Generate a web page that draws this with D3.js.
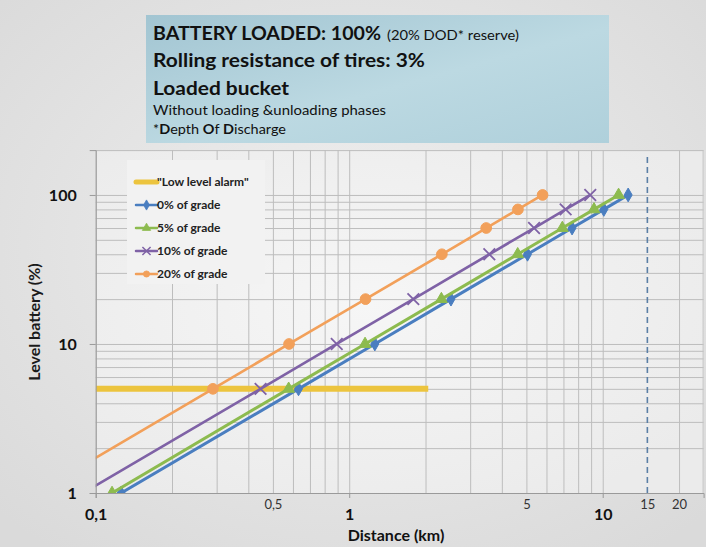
<!DOCTYPE html>
<html>
<head>
<meta charset="utf-8">
<script src="https://cdn.jsdelivr.net/npm/d3@7"></script>
<style>
  html, body { margin: 0; padding: 0; background: #e2e2e2; }
  svg { display: block; font-family: Lato, "Open Sans", sans-serif; }
</style>
</head>
<body>
<svg id="chart" width="706" height="547"></svg>
<script>
// Battery level (%) reached at each distance, per road grade
const levels   = [1, 5, 10, 20, 40, 60, 80, 100];
const grade0   = [0.126, 0.631, 1.262, 2.52, 5.05, 7.57, 10.1, 12.6];
const grade5   = [0.116, 0.577, 1.155, 2.31, 4.62, 6.93, 9.24, 11.55];
const grade10  = [0.089, 0.447, 0.893, 1.79, 3.57, 5.36, 7.14, 8.93];
const grade20  = [0.058, 0.29, 0.579, 1.16, 2.32, 3.47, 4.63, 5.79];
// "Low level alarm" threshold line
const alarmLevel = 5;
const alarmDistance = [0.1, 2.05];
// Range limit marker (km)
const rangeLimit = 15;
// Axis labels
const xMajorTicks = [0.1, 1, 10];
const xMinorLabels = [0.5, 5, 15, 20];
const yTicks = [1, 10, 100];

const seriesNames  = ["0% of grade", "5% of grade", "10% of grade", "20% of grade"];
const legendLabels = ["0% of grade", "5%  of grade", "10% of grade", "20% of grade"];
const seriesDist   = [grade0, grade5, grade10, grade20];
const colors  = ["#4a7ec0", "#8dbb4f", "#7f62a6", "#f2a05a"];
const symbols = [d3.symbolDiamond, d3.symbolTriangle, d3.symbolTimes, d3.symbolCircle];
const alarmColor = "#ecc43e";

const svg = d3.select("#chart");
const W = 706, H = 547;
const defs = svg.append("defs");

// page background
const pg = defs.append("radialGradient").attr("id", "pageBg")
  .attr("cx", "50%").attr("cy", "45%").attr("r", "70%");
pg.append("stop").attr("offset", "0%").attr("stop-color", "#efefef");
pg.append("stop").attr("offset", "100%").attr("stop-color", "#dadada");
svg.append("rect").attr("width", W).attr("height", H).attr("fill", "url(#pageBg)");

// title panel
const tg = defs.append("linearGradient").attr("id", "titleBg")
  .attr("x1", "0").attr("y1", "0").attr("x2", "1").attr("y2", "1");
tg.append("stop").attr("offset", "0%").attr("stop-color", "#a2c5d2");
tg.append("stop").attr("offset", "55%").attr("stop-color", "#bcd9e2");
tg.append("stop").attr("offset", "100%").attr("stop-color", "#afd0db");
svg.append("rect").attr("x", 146).attr("y", 15).attr("width", 463).attr("height", 128)
  .attr("fill", "url(#titleBg)");

const tt = svg.append("g").attr("fill", "#111");
tt.append("text").attr("x", 153).attr("y", 39.5).attr("font-weight", 700).attr("font-size", 19)
  .attr("textLength", 228).attr("lengthAdjust", "spacingAndGlyphs")
  .text("BATTERY LOADED: 100%");
tt.append("text").attr("x", 387).attr("y", 39.5).attr("font-size", 13)
  .attr("textLength", 132).attr("lengthAdjust", "spacingAndGlyphs")
  .text("(20% DOD* reserve)");
tt.append("text").attr("x", 153).attr("y", 67).attr("font-weight", 700).attr("font-size", 19)
  .attr("textLength", 272).attr("lengthAdjust", "spacingAndGlyphs")
  .text("Rolling resistance of tires: 3%");
tt.append("text").attr("x", 153).attr("y", 94.5).attr("font-weight", 700).attr("font-size", 19)
  .attr("textLength", 136).attr("lengthAdjust", "spacingAndGlyphs")
  .text("Loaded bucket");
tt.append("text").attr("x", 153).attr("y", 115).attr("font-size", 13)
  .attr("textLength", 233).attr("lengthAdjust", "spacingAndGlyphs")
  .text("Without loading &unloading phases");
const l5 = tt.append("text").attr("x", 153).attr("y", 133.5).attr("font-size", 13)
  .attr("textLength", 133).attr("lengthAdjust", "spacingAndGlyphs");
[["*", 400], ["D", 700], ["epth ", 400], ["O", 700], ["f ", 400], ["D", 700], ["ischarge", 400]]
  .forEach(([t, w]) => l5.append("tspan").attr("font-weight", w).text(t));

// scales
const x = d3.scaleLog().domain([0.1, 25]).range([95.7, 703.6]);
const y = d3.scaleLog().domain([1, 200]).range([493, 150.1]);
const [x0, x1] = x.range();
const [y0, y1] = y.range();

// plot area
const pb = defs.append("radialGradient").attr("id", "plotBg")
  .attr("cx", "45%").attr("cy", "45%").attr("r", "65%");
pb.append("stop").attr("offset", "0%").attr("stop-color", "#f6f6f6");
pb.append("stop").attr("offset", "100%").attr("stop-color", "#ebebeb");
svg.append("rect").attr("x", x0).attr("y", y1).attr("width", x1 - x0).attr("height", y0 - y1)
  .attr("fill", "url(#plotBg)");

defs.append("clipPath").attr("id", "plotClip").append("rect")
  .attr("x", x0).attr("y", y1).attr("width", x1 - x0).attr("height", y0 - y1);

// grid
const gridX = svg.append("g").attr("transform", `translate(0,${y0})`)
  .call(d3.axisBottom(x).tickValues(x.ticks()).tickSize(-(y0 - y1)).tickFormat(""));
const gridY = svg.append("g").attr("transform", `translate(${x0},0)`)
  .call(d3.axisLeft(y).tickValues(y.ticks()).tickSize(-(x1 - x0)).tickFormat(""));
[gridX, gridY].forEach(g => {
  g.select(".domain").remove();
  g.selectAll("line").attr("stroke", "#bdbdbd").attr("stroke-width", 1);
});
svg.append("line").attr("x1", x1 - 0.5).attr("x2", x1 - 0.5).attr("y1", y1).attr("y2", y0)
  .attr("stroke", "#c4c4c4");

// legend panel hides the grid behind it
svg.append("rect").attr("x", 127).attr("y", 160).attr("width", 138).attr("height", 124)
  .attr("fill", "#f2f2f2");

// range limit
svg.append("line").attr("x1", x(rangeLimit)).attr("x2", x(rangeLimit))
  .attr("y1", y1 + 7).attr("y2", y0)
  .attr("stroke", "#5b7fa6").attr("stroke-width", 1.6).attr("stroke-dasharray", "6,4");

const plot = svg.append("g").attr("clip-path", "url(#plotClip)");

// alarm line
plot.append("line").attr("x1", x(alarmDistance[0])).attr("x2", x(alarmDistance[1]))
  .attr("y1", y(alarmLevel)).attr("y2", y(alarmLevel))
  .attr("stroke", alarmColor).attr("stroke-width", 6);

// series
const line = d3.line().x(d => x(d[0])).y(d => y(d[1]));
seriesDist.forEach((dist, i) => {
  const pts = dist.map((d, j) => [d, levels[j]]);
  const g = plot.append("g").attr("class", "series").attr("data-name", seriesNames[i]);
  g.append("path").datum(pts).attr("d", line).attr("fill", "none")
    .attr("stroke", colors[i]).attr("stroke-width", i < 2 ? 3 : 2.6);
  const sym = d3.symbol().type(symbols[i]).size([55, 60, 90, 90][i]);
  g.selectAll(".m").data(pts).join("path").attr("class", "m")
    .attr("transform", d => `translate(${x(d[0])},${y(d[1])})`)
    .attr("d", sym)
    .attr("fill", i === 2 ? "none" : colors[i])
    .attr("stroke", colors[i]).attr("stroke-width", i === 2 ? 1.8 : 1);
});

// axes
const fmt = d3.formatLocale({ decimal: ",", thousands: ".", grouping: [3], currency: ["", ""] }).format("~g");
const yAxis = svg.append("g").attr("transform", `translate(${x0},0)`)
  .call(d3.axisLeft(y).tickValues(yTicks).tickSize(6).tickPadding(8).tickFormat(fmt));
yAxis.select(".domain").attr("stroke", "#9a9a9a");
yAxis.selectAll("line").attr("stroke", "#9a9a9a");
yAxis.selectAll("text").attr("font-size", 16).attr("font-weight", 700).attr("fill", "#111")
  .attr("font-family", "Lato, sans-serif").attr("dx", -5).attr("dy", "0.36em");

const xAxis = svg.append("g").attr("transform", `translate(0,${y0})`)
  .call(d3.axisBottom(x).tickValues(xMajorTicks).tickSize(5).tickPadding(19).tickFormat(fmt));
xAxis.select(".domain").attr("stroke", "#9a9a9a");
xAxis.selectAll("line").attr("stroke", "#9a9a9a");
xAxis.selectAll("text").attr("font-size", 16).attr("font-weight", 700).attr("fill", "#111")
  .attr("font-family", "Lato, sans-serif").attr("dy", "0.2em");

const xAxis2 = svg.append("g").attr("transform", `translate(0,${y0})`)
  .call(d3.axisBottom(x).tickValues(xMinorLabels).tickSize(0).tickPadding(7).tickFormat(fmt));
xAxis2.select(".domain").remove();
xAxis2.selectAll("text").attr("font-size", 13).attr("fill", "#333")
  .attr("font-family", "Lato, sans-serif");

// axis titles
svg.append("text").attr("x", 396).attr("y", 541).attr("text-anchor", "middle")
  .attr("font-size", 16).attr("font-weight", 700).attr("fill", "#111").text("Distance (km)");
svg.append("text").attr("transform", "translate(40,322) rotate(-90)").attr("text-anchor", "middle")
  .attr("font-size", 16).attr("font-weight", 700).attr("fill", "#1a1a1a").text("Level battery (%)");

// legend
const legend = svg.append("g").attr("font-size", 12).attr("font-weight", 700).attr("fill", "#222");
const legendRows = [{ label: '"Low level alarm"', color: alarmColor, sym: null, w: 5 }]
  .concat(legendLabels.map((l, i) => ({ label: l, color: colors[i], sym: symbols[i], idx: i, w: 2.5 })));
legendRows.forEach((r, k) => {
  const yy = 182 + k * 23;
  legend.append("line").attr("x1", 136).attr("x2", 157).attr("y1", yy).attr("y2", yy)
    .attr("stroke", r.color).attr("stroke-width", r.w).attr("stroke-linecap", "round");
  if (r.sym) {
    legend.append("path").attr("transform", `translate(146.5,${yy})`)
      .attr("d", d3.symbol().type(r.sym).size(r.idx === 2 ? 45 : 30))
      .attr("fill", r.idx === 2 ? "none" : r.color).attr("stroke", r.color)
      .attr("stroke-width", r.idx === 2 ? 1.5 : 0.8);
  }
  legend.append("text").attr("x", 157).attr("y", yy).attr("dy", "0.35em").text(r.label);
});
</script>
</body>
</html>
